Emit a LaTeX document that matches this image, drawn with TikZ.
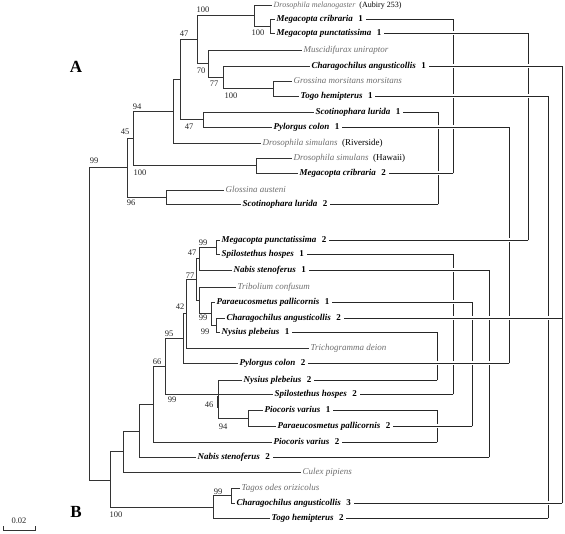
\documentclass[tikz,border=0pt]{standalone}
\usepackage{fontspec}
\setmainfont{Liberation Serif}
\definecolor{taxgray}{RGB}{110,110,110}
\newcommand{\hostsp}[2]{\textbf{\textit{#1}}\hspace{0.6em}\textbf{#2}}
\newcommand{\othersp}[1]{\textcolor{taxgray}{\textit{#1}}}

\begin{document}
\begin{tikzpicture}[x=1pt,y=-1pt,font=\fontsize{9}{10}\selectfont,
    br/.style={line width=0.7pt,black!80},
    leaf/.style={anchor=west,inner sep=1.5pt,text height=6pt,text depth=2pt},
    boot/.style={inner sep=0pt,black!85,font=\fontsize{8.5}{10}\selectfont},
    link/.style={line width=0.7pt,black!85,line cap=rect}]
  \useasboundingbox (0,0) rectangle (565,533);
  % clade A
  \node[leaf,font=\fontsize{8}{9}\selectfont] (dmel) at (272,5)
    {\othersp{Drosophila melanogaster}\ \ (Aubiry 253)};
  \node[leaf] (mcri1)  at (275,19)  {\hostsp{Megacopta cribraria}{1}};
  \node[leaf] (mpun1)  at (275,33)  {\hostsp{Megacopta punctatissima}{1}};
  \node[leaf] (musc)   at (302,50)  {\othersp{Muscidifurax uniraptor}};
  \node[leaf] (chara1) at (310,66)  {\hostsp{Charagochilus angusticollis}{1}};
  \node[leaf] (gross)  at (292,81)  {\othersp{Grossina morsitans morsitans}};
  \node[leaf] (togo1)  at (299,96)  {\hostsp{Togo hemipterus}{1}};
  \node[leaf] (scot1)  at (314,112) {\hostsp{Scotinophara lurida}{1}};
  \node[leaf] (pyl1)   at (272,127) {\hostsp{Pylorgus colon}{1}};
  \node[leaf] (dsimR)  at (261,143) {\othersp{Drosophila simulans}\ \ (Riverside)};
  \node[leaf] (dsimH)  at (292,158) {\othersp{Drosophila simulans}\ \ (Hawaii)};
  \node[leaf] (mcri2)  at (298,173) {\hostsp{Megacopta cribraria}{2}};
  \node[leaf] (glos)   at (224,190) {\othersp{Glossina austeni}};
  \node[leaf] (scot2)  at (241,204) {\hostsp{Scotinophara lurida}{2}};
  % clade B
  \node[leaf] (mpun2)  at (220,240) {\hostsp{Megacopta punctatissima}{2}};
  \node[leaf] (spil1)  at (220,254) {\hostsp{Spilostethus hospes}{1}};
  \node[leaf] (nabis1) at (232,270) {\hostsp{Nabis stenoferus}{1}};
  \node[leaf] (trib)   at (236,287) {\othersp{Tribolium confusum}};
  \node[leaf] (parae1) at (215,302) {\hostsp{Paraeucosmetus pallicornis}{1}};
  \node[leaf] (chara2) at (225,318) {\hostsp{Charagochilus angusticollis}{2}};
  \node[leaf] (nys1)   at (220,332) {\hostsp{Nysius plebeius}{1}};
  \node[leaf] (tricho) at (309,348) {\othersp{Trichogramma deion}};
  \node[leaf] (pyl2)   at (238,363) {\hostsp{Pylorgus colon}{2}};
  \node[leaf] (nys2)   at (242,380) {\hostsp{Nysius plebeius}{2}};
  \node[leaf] (spil2)  at (273,394) {\hostsp{Spilostethus hospes}{2}};
  \node[leaf] (pioc1)  at (263,410) {\hostsp{Piocoris varius}{1}};
  \node[leaf] (parae2) at (276,426) {\hostsp{Paraeucosmetus pallicornis}{2}};
  \node[leaf] (pioc2)  at (272,442) {\hostsp{Piocoris varius}{2}};
  \node[leaf] (nabis2) at (196,457) {\hostsp{Nabis stenoferus}{2}};
  \node[leaf] (culex)  at (301,472) {\othersp{Culex pipiens}};
  \node[leaf] (tagos)  at (240,488) {\othersp{Tagos odes orizicolus}};
  \node[leaf] (chara3) at (235,503) {\hostsp{Charagochilus angusticollis}{3}};
  \node[leaf] (togo2)  at (270,518) {\hostsp{Togo hemipterus}{2}};

  % inner nodes
  \coordinate (r)   at (89,324);
  \coordinate (a1)  at (270,26);
  \coordinate (a2)  at (254,15);
  \coordinate (a3)  at (273,88.5);
  \coordinate (a4)  at (223,77);
  \coordinate (a5)  at (208,63.5);
  \coordinate (a6)  at (197,39);
  \coordinate (a7)  at (203,119.5);
  \coordinate (a8)  at (180,79);
  \coordinate (a9)  at (173,111);
  \coordinate (a10) at (256,165.5);
  \coordinate (a11) at (133,138);
  \coordinate (a12) at (166,197);
  \coordinate (a13) at (127,167.5);
  \coordinate (b1)  at (216,247);
  \coordinate (b2)  at (199,258.5);
  \coordinate (b3)  at (216,325);
  \coordinate (b4)  at (211,313.5);
  \coordinate (b5)  at (199,300);
  \coordinate (b6)  at (196,279);
  \coordinate (b7)  at (186,313.5);
  \coordinate (b8)  at (183,338.5);
  \coordinate (b9)  at (248,418);
  \coordinate (b10) at (218,394);
  \coordinate (b11) at (165,366);
  \coordinate (b12) at (153,404);
  \coordinate (b13) at (139,431);
  \coordinate (b14) at (123,451.5);
  \coordinate (b15) at (231,495.5);
  \coordinate (b16) at (213,507);
  \coordinate (b17) at (110,480);

  % branches
  \foreach \p/\c in {r/a13, a13/a11, a13/a12, a11/a9, a11/a10, a9/a8, a9/dsimR.west,
      a8/a6, a8/a7, a6/a2, a6/a5, a2/dmel.west, a2/a1, a1/mcri1.west, a1/mpun1.west,
      a5/musc.west, a5/a4, a4/chara1.west, a4/a3, a3/gross.west, a3/togo1.west,
      a7/scot1.west, a7/pyl1.west, a10/dsimH.west, a10/mcri2.west,
      a12/glos.west, a12/scot2.west}
    \draw[br] (\p) |- (\c);
  \foreach \p/\c in {r/b17, b17/b14, b17/b16, b14/b13, b14/culex.west, b13/b12,
      b13/nabis2.west, b12/b11, b12/pioc2.west, b11/b8, b11/b10, b8/b7, b8/pyl2.west,
      b7/b6, b7/tricho.west, b6/b2, b6/b5, b2/b1, b2/nabis1.west, b1/mpun2.west,
      b1/spil1.west, b5/trib.west, b5/b4, b4/parae1.west, b4/b3, b3/chara2.west,
      b3/nys1.west, b10/nys2.west, b10/spil2.west, b10/b9, b9/pioc1.west,
      b9/parae2.west, b16/b15, b16/togo2.west, b15/tagos.west, b15/chara3.west}
    \draw[br] (\p) |- (\c);
  \draw[br,line width=1.8pt] (218,396) -- (218,408);

  % bootstrap values
  \foreach \t/\x/\y [count=\i] in {100/203/10, 100/258/33, 47/184/34, 70/201/71,
      77/214/84, 100/231/96, 94/137/107, 47/189/127, 45/125/132, 100/140/173,
      96/131/203, 99/94/161, 99/203/243, 47/192/253, 77/190/276, 42/180/307,
      99/203/318, 99/205/332, 95/169/334, 66/157/362, 99/172/400, 46/209/405,
      94/223/427, 99/218/492, 100/116/515}
    \node[boot] (bs\i) at (\x,\y) {\t};

  % links between the copies of one host
  \foreach \p/\q/\c in {mcri1/mcri2/453, mpun1/mpun2/528, chara1/chara3/562,
      togo1/togo2/548, scot1/scot2/438, pyl1/pyl2/509, spil1/spil2/453,
      nabis1/nabis2/489, parae1/parae2/472, nys1/nys2/437, pioc1/pioc2/437}
    \draw[link] (\p.east -| \c,0) -- (\q.east -| \c,0);
  \foreach \p/\c in {mcri1/453, mcri2/453, mpun1/528, mpun2/528, chara1/562,
      chara2/562, chara3/562, togo1/548, togo2/548, scot1/438, scot2/438,
      pyl1/509, pyl2/509, spil1/453, spil2/453, nabis1/489, nabis2/489,
      parae1/472, parae2/472, nys1/437, nys2/437, pioc1/437, pioc2/437}
    \draw[link,shorten <=1.5pt,
      preaction={draw=white,line width=4pt,line cap=butt,shorten >=2pt}]
      (\p.east) -- (\p.east -| \c,0);

  \node[font=\fontsize{17}{18}\selectfont\bfseries] (labA) at (76,67) {A};
  \node[font=\fontsize{17}{18}\selectfont\bfseries] (labB) at (76,512) {B};
  \draw[br] (3,526) -- (3,530) -- (35,530) -- (35,526);
  \node[boot] (scale) at (19,521) {0.02};
\end{tikzpicture}
\end{document}
